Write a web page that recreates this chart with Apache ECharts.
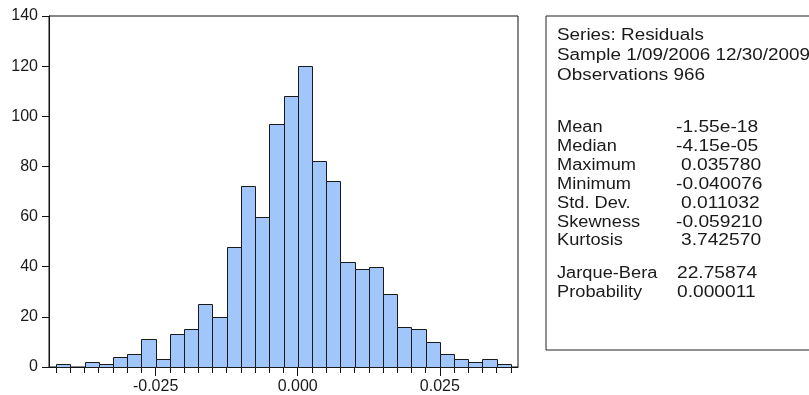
<!DOCTYPE html>
<html>
<head>
<meta charset="utf-8">
<script src="https://cdn.jsdelivr.net/npm/echarts@6/dist/echarts.min.js"></script>
<style>html,body{margin:0;padding:0;background:#fff;}#c{width:809px;height:395px;}</style>
</head>
<body>
<div id="c"></div>
<script>
// Bin edges of the histogram (lower edge of each bin, plus final upper edge)
var binEdges = [-0.0425,-0.04,-0.0375,-0.035,-0.0325,-0.03,-0.0275,-0.025,-0.0225,-0.02,-0.0175,-0.015,-0.0125,-0.01,-0.0075,-0.005,-0.0025,0,0.0025,0.005,0.0075,0.01,0.0125,0.015,0.0175,0.02,0.0225,0.025,0.0275,0.03,0.0325,0.035,0.0375];
// Frequencies per bin
var counts = [1,0,2,1,4,5,11,3,13,15,25,20,48,72,60,97,108,120,82,74,42,39,40,29,16,15,10,5,3,2,3,1];
// Labelled x ticks
var xTickLabels = [-0.025, 0, 0.025];
// Statistics panel
var headerLines = ["Series: Residuals", "Sample 1/09/2006 12/30/2009", "Observations 966"];
var statLabels = ["Mean","Median","Maximum","Minimum","Std. Dev.","Skewness","Kurtosis"];
var statValues = ["-1.55e-18","-4.15e-05","0.035780","-0.040076","0.011032","-0.059210","3.742570"];
var testLabels = ["Jarque-Bera","Probability"];
var testValues = ["22.75874","0.000011"];

var chart = echarts.init(document.getElementById('c'), null, {renderer:'canvas'});
var data = counts.map(function(c,i){ return [binEdges[i], binEdges[i+1], c]; });
var FONT = 'Liberation Sans, Arial, sans-serif';
var TXT = '#1a1a1a';

var graphics = [{
  type:'rect', shape:{x:546, y:16, width:300, height:334},
  style:{fill:'none', stroke:'#222', lineWidth:1}, z:10
}];
function addText(str, x, y, sx){
  graphics.push({type:'text', x:x, y:y, scaleX:sx, scaleY:1.04, z:11,
    style:{text:str, x:0, y:0, font:'16px ' + FONT, fill:TXT, verticalAlign:'middle', align:'left'}});
}
var headerY = [35, 55.5, 75.5];
headerLines.forEach(function(s,i){ addText(s, 557, headerY[i], 1.18); });
var statY = [127, 146, 165, 184, 203, 222, 240];
statLabels.forEach(function(s,i){
  addText(s, 557, statY[i], 1.14);
  addText(statValues[i], statValues[i].charAt(0)==='-' ? 676 : 681, statY[i], 1.2);
});
var testY = [273, 292];
testLabels.forEach(function(s,i){
  addText(s, 557, testY[i], 1.14);
  addText(testValues[i], 677, testY[i], 1.2);
});

var xMin = -0.04375, xMax = 0.03875;
chart.setOption({
  animation:false,
  backgroundColor:'#fff',
  grid:{left:49, top:16, width:469, height:352, show:true, borderColor:'#111', borderWidth:1, backgroundColor:'transparent'},
  xAxis:[{
    type:'value', min:xMin, max:xMax, position:'bottom',
    axisLine:{show:true, onZero:false, lineStyle:{color:'#111', width:1}},
    axisTick:{show:true, customValues:binEdges, length:6, lineStyle:{color:'#111'}},
    axisLabel:{show:false},
    splitLine:{show:false}
  },{
    type:'value', min:xMin, max:xMax, position:'bottom', gridIndex:0,
    axisLine:{show:false, onZero:false},
    axisTick:{show:true, customValues:xTickLabels, length:9, lineStyle:{color:'#111'}},
    axisLabel:{show:true, customValues:xTickLabels, margin:12, fontSize:16, fontFamily:FONT, color:TXT,
      formatter:function(v){ return v.toFixed(3); }},
    splitLine:{show:false}
  }],
  yAxis:{
    type:'value', min:0, max:140, interval:20,
    axisLine:{show:true, onZero:false, lineStyle:{color:'#111', width:1}},
    axisTick:{show:true, length:7, lineStyle:{color:'#111'}},
    axisLabel:{margin:11, fontSize:16, fontFamily:FONT, color:TXT},
    splitLine:{show:false}
  },
  series:[{
    type:'custom', xAxisIndex:0, yAxisIndex:0,
    data:data,
    encode:{x:[0,1], y:2},
    renderItem:function(params, api){
      var v = api.value(2);
      if (!v) return null;
      var p0 = api.coord([api.value(0), v]);
      var p1 = api.coord([api.value(1), 0]);
      return {type:'rect',
        shape:{x:Math.round(p0[0])+0.5, y:Math.round(p0[1])+0.5, width:Math.round(p1[0])-Math.round(p0[0]), height:Math.round(p1[1])-Math.round(p0[1])},
        style:{fill:'#a0c6fc', stroke:'#1a1a1a', lineWidth:1}};
    }
  }],
  graphic:graphics
});
</script>
</body>
</html>
